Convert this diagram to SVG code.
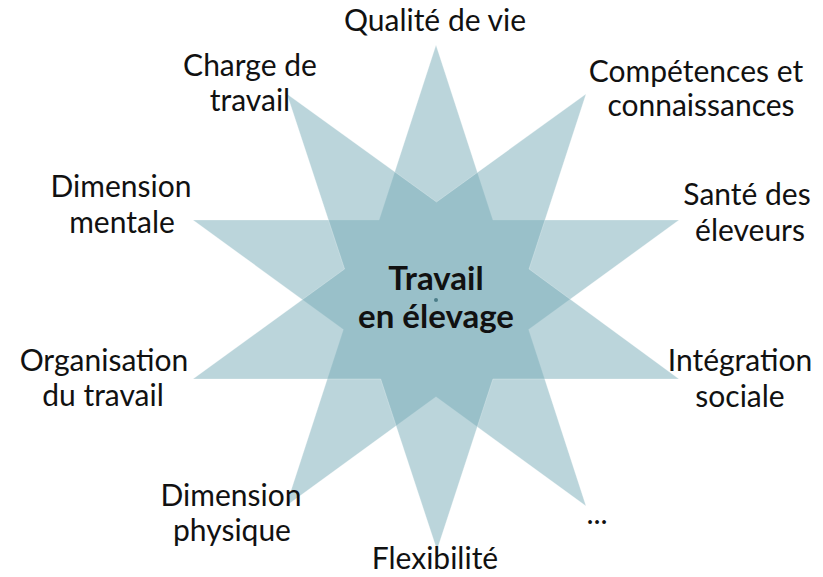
<svg xmlns="http://www.w3.org/2000/svg" width="823" height="577" viewBox="0 0 823 577">
<style>
.star{fill:#78acb8;fill-opacity:0.5;stroke:#ffffff;stroke-opacity:0.25;stroke-width:1}
.lbl{font-family:Lato,"Liberation Sans",sans-serif;font-size:30px;fill:#111;text-anchor:middle}
.ctr{font-family:Lato,"Liberation Sans",sans-serif;font-size:33px;font-weight:bold;fill:#111;text-anchor:middle}
</style>
<rect width="823" height="577" fill="#ffffff"/>
<g id="star">
<polygon class="star" points="436,45 492.9,220 679,220 528.6,329.5 586,506 436,396.8 286,506 343.4,329.5 193,220 379.1,220"/>
<polygon class="star" points="437,550 492.9,379 679,379 529,269 586,94 436.5,202 287,94 344.6,269 193,379 380.7,379"/>
<circle cx="436" cy="300" r="2" fill="#4b7c88"/>
</g>
<g id="center"><text class="ctr" x="436" y="290">Travail</text><text class="ctr" x="436" y="328">en élevage</text></g>
<g id="qualite"><text class="lbl" x="435" y="31">Qualité de vie</text></g>
<g id="charge"><text class="lbl" x="250" y="76" font-size="29">Charge de</text><text class="lbl" x="250" y="111" font-size="29">travail</text></g>
<g id="competences"><text class="lbl" x="696" y="82" font-size="28">Compétences et</text><text class="lbl" x="701" y="116" font-size="29">connaissances</text></g>
<g id="mentale"><text class="lbl" x="121" y="197">Dimension</text><text class="lbl" x="122" y="233">mentale</text></g>
<g id="sante"><text class="lbl" x="747" y="205" font-size="29">Santé des</text><text class="lbl" x="750" y="241" font-size="29">éleveurs</text></g>
<g id="organisation"><text class="lbl" x="104" y="371">Organisation</text><text class="lbl" x="103" y="406">du travail</text></g>
<g id="integration"><text class="lbl" x="740" y="371">Intégration</text><text class="lbl" x="740" y="407">sociale</text></g>
<g id="physique"><text class="lbl" x="231" y="506">Dimension</text><text class="lbl" x="232" y="541">physique</text></g>
<g id="flexibilite"><text class="lbl" x="435" y="569">Flexibilité</text></g>
<g id="etc"><text class="lbl" x="597" y="524">...</text></g>
</svg>
